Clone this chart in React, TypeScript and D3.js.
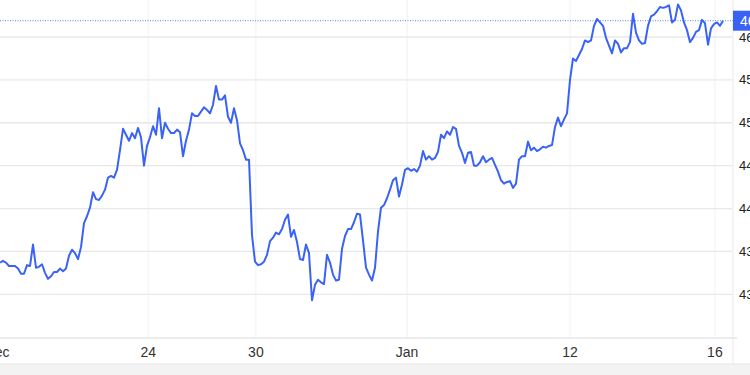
import React from "react";
import * as d3 from "d3";

// Price series (evenly spaced samples)
const prices: number[] = [
  4337, 4339, 4337, 4333, 4333, 4333, 4330, 4324, 4324, 4334, 4333, 4358, 4331, 4332, 4335, 4325,
  4318, 4321, 4326, 4326, 4330, 4327, 4330, 4345, 4352, 4348, 4341, 4355, 4383, 4391, 4401, 4419,
  4411, 4410, 4415, 4422, 4436, 4438, 4436, 4445, 4468, 4493, 4486, 4479, 4488, 4482, 4494, 4483,
  4450, 4473, 4483, 4496, 4486, 4517, 4482, 4500, 4493, 4488, 4488, 4492, 4489, 4461, 4479, 4492,
  4511, 4508, 4508, 4513, 4518, 4515, 4511, 4521, 4543, 4527, 4527, 4532, 4507, 4500, 4517, 4503,
  4476, 4468, 4457, 4457, 4369, 4338, 4334, 4335, 4338, 4346, 4362, 4366, 4372, 4370, 4376, 4387,
  4393, 4367, 4375, 4361, 4341, 4340, 4358, 4348, 4293, 4311, 4317, 4314, 4312, 4346, 4337, 4323,
  4316, 4317, 4353, 4368, 4376, 4376, 4384, 4394, 4393, 4363, 4331, 4323, 4316, 4331, 4373, 4401,
  4404, 4412, 4422, 4433, 4436, 4414, 4428, 4445, 4447, 4444, 4446, 4443, 4450, 4467, 4457, 4461,
  4457, 4459, 4466, 4486, 4482, 4490, 4486, 4495, 4493, 4473, 4465, 4453, 4465, 4466, 4450, 4450,
  4454, 4461, 4454, 4457, 4459, 4451, 4443, 4433, 4429, 4431, 4432, 4424, 4429, 4457, 4461, 4461,
  4478, 4468, 4471, 4467, 4469, 4472, 4471, 4473, 4474, 4495, 4506, 4496, 4504, 4511, 4550, 4575,
  4572, 4579, 4586, 4596, 4594, 4596, 4613, 4621, 4617, 4613, 4599, 4590, 4581, 4596, 4592, 4582,
  4587, 4587, 4594, 4627, 4605, 4596, 4592, 4593, 4613, 4624, 4626, 4630, 4635, 4634, 4635, 4637,
  4617, 4620, 4638, 4631, 4617, 4608, 4594, 4599, 4606, 4608, 4620, 4616, 4591, 4610, 4615, 4617,
  4613, 4619,
];

// X axis labels and the sample index they sit at
const xTickLabels: string[] = ["Dec", "24", "30", "Jan", "12", "16"];
const xTickIndex: number[] = [-1, 49.4, 85.3, 135.7, 190, 238.3];

// Y axis tick values
const yTicks: number[] = [4300, 4350, 4400, 4450, 4500, 4550, 4600];

const W = 750;
const H = 375;
const FONT = "'Liberation Sans', Arial, Helvetica, sans-serif";
const BLUE = "#3a63f6";

export default function App() {
  const x = d3.scaleLinear().domain([0, prices.length - 1]).range([0, 723]);
  const y = d3.scaleLinear().domain([4300, 4600]).range([294.3, 37]);

  const line = d3
    .line<number>()
    .x((_, i) => x(i))
    .y((d) => y(d))
    .curve(d3.curveLinear);

  const last = prices[prices.length - 1];
  const lastY = y(last);

  return (
    <svg
      width={W}
      height={H}
      style={{ position: "absolute", left: 0, top: 0, background: "#fff" }}
      fontFamily={FONT}
    >
      <rect x={0} y={0} width={W} height={H} fill="#fff" />
      {/* vertical grid */}
      {xTickIndex.map((t, i) => (
        <line key={"vg" + i} x1={x(t)} x2={x(t)} y1={0} y2={338} stroke="#edf2f6" strokeWidth={1} />
      ))}
      {/* horizontal grid */}
      {yTicks.map((t) => (
        <line key={"hg" + t} x1={0} x2={732} y1={y(t)} y2={y(t)} stroke="#e8e8e8" strokeWidth={1.3} />
      ))}
      {/* bottom axis line */}
      <line x1={0} x2={737} y1={338} y2={338} stroke="#e6e6e6" strokeWidth={1.3} />
      {/* right axis separator */}
      <line x1={733} x2={733} y1={0} y2={364} stroke="#e8e8e8" strokeWidth={1} />
      {/* bottom band */}
      <rect x={0} y={364} width={W} height={11} fill="#f3f3f3" />
      <line x1={0} x2={W} y1={364} y2={364} stroke="#e6e6e6" strokeWidth={1} />

      {/* price line (dotted) */}
      <line x1={0} x2={733} y1={lastY} y2={lastY} stroke={BLUE} strokeWidth={1} strokeDasharray="1,1.5" opacity={0.8} />

      {/* series */}
      <path d={line(prices) || ""} fill="none" stroke={BLUE} strokeWidth={2} strokeLinejoin="round" />

      {/* x labels */}
      {xTickLabels.map((l, i) => (
        <text key={"xl" + i} x={x(xTickIndex[i])} y={357} textAnchor="middle" fontSize={14} fill="#333">
          {l}
        </text>
      ))}

      {/* y labels */}
      {yTicks.map((t) => (
        <text key={"yl" + t} x={739} y={y(t) + 4.5} fontSize={13} fill="#222">
          {t}
        </text>
      ))}

      {/* last price box */}
      <rect x={733} y={lastY - 10} width={40} height={20} fill={BLUE} />
      <text x={740} y={lastY + 5} fontSize={14} fill="#fff">
        {last}
      </text>
    </svg>
  );
}
